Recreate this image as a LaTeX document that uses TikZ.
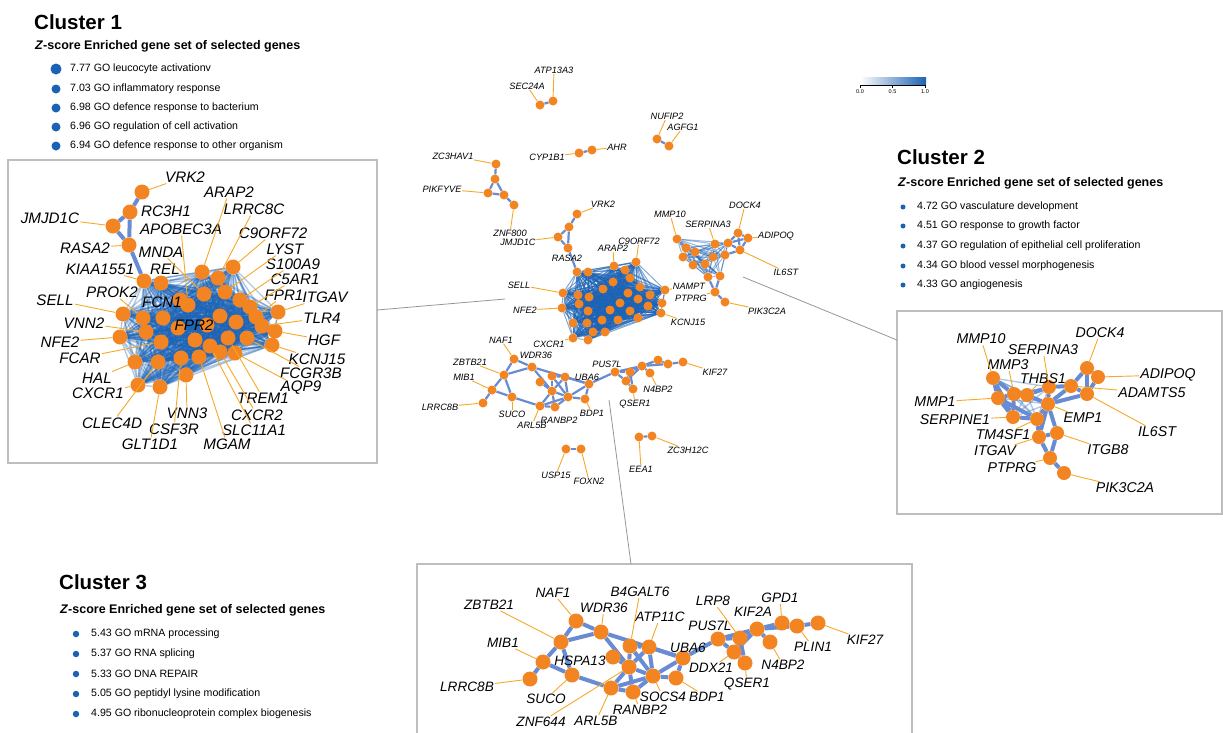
\documentclass[tikz,border=0pt]{standalone}
\usepackage{fontspec}
\setmainfont{Liberation Sans}
\usetikzlibrary{backgrounds}

\definecolor{geneorange}{RGB}{242,133,34}
\definecolor{leadorange}{RGB}{246,168,40}
\definecolor{edgeblue}{RGB}{104,140,212}
\definecolor{coreblue}{RGB}{28,98,180}
\definecolor{panelgray}{RGB}{190,190,190}
\definecolor{calloutgray}{RGB}{150,150,150}

\begin{document}
\begin{tikzpicture}[x=1pt,y=-1pt]
\tikzset{
  gene/.style={circle,fill=geneorange,inner sep=0pt,minimum size=15pt},
  genemid/.style={gene,minimum size=14pt},
  genesmall/.style={gene,minimum size=9pt},
  biglabel/.style={font=\fontsize{15.2}{16}\selectfont\itshape,inner sep=1pt},
  midlabel/.style={font=\fontsize{14.2}{15}\selectfont\itshape,inner sep=1pt},
  boxlabel/.style={font=\fontsize{13.6}{14}\selectfont\itshape,inner sep=1pt},
  tinylabel/.style={font=\fontsize{9.2}{10}\selectfont\itshape,inner sep=0.5pt},
  lead/.style={draw=leadorange,line width=0.9pt},
  thickedge/.style={draw=edgeblue,line width=4pt},
  thinedge/.style={draw=edgeblue,line width=2.2pt},
  coreedge/.style={draw=coreblue,line width=1.4pt,opacity=0.35},
  netcoreedge/.style={draw=coreblue,line width=1pt,opacity=0.55},
  panel/.style={draw=panelgray,line width=1.2pt},
  callout/.style={draw=calloutgray,line width=0.8pt},
  bulletdot/.style={circle,fill=coreblue,inner sep=0pt},
  goitem/.style={anchor=west,inner sep=0pt,font=\fontsize{10.6}{12}\selectfont},
  clustertitle/.style={anchor=west,inner sep=0pt,font=\fontsize{20.5}{22}\selectfont\bfseries},
  enrichhead/.style={anchor=west,inner sep=0pt,font=\fontsize{12.5}{14}\selectfont\bfseries},
  ticklabel/.style={inner sep=0pt,font=\fontsize{5.5}{6}\selectfont}
}
\useasboundingbox (0,0) rectangle (1223,732);

% enrichment lists
\node[clustertitle] (t1) at (34,22) {Cluster 1};
\node[enrichhead] (h1) at (35,46) {\textit{Z}-score Enriched gene set of selected genes};
\node[bulletdot,minimum size=11pt] (d11) at (56,69) {};
\node[goitem] (g11) at (70,69) {7.77 GO leucocyte activationv};
\node[bulletdot,minimum size=9pt] (d12) at (56,89) {};
\node[goitem] (g12) at (70,89) {7.03 GO inflammatory response};
\node[bulletdot,minimum size=9pt] (d13) at (56,108) {};
\node[goitem] (g13) at (70,108) {6.98 GO defence response to bacterium};
\node[bulletdot,minimum size=9pt] (d14) at (56,127) {};
\node[goitem] (g14) at (70,127) {6.96 GO regulation of cell activation};
\node[bulletdot,minimum size=9pt] (d15) at (56,146) {};
\node[goitem] (g15) at (70,146) {6.94 GO defence response to other organism};

\node[clustertitle] (t2) at (897,157) {Cluster 2};
\node[enrichhead] (h2) at (898,183) {\textit{Z}-score Enriched gene set of selected genes};
\node[bulletdot,minimum size=5pt] (d21) at (903,207) {};
\node[goitem] (g21) at (917,207) {4.72 GO vasculature development};
\node[bulletdot,minimum size=5pt] (d22) at (903,226) {};
\node[goitem] (g22) at (917,226) {4.51 GO response to growth factor};
\node[bulletdot,minimum size=5pt] (d23) at (903,246) {};
\node[goitem] (g23) at (917,246) {4.37 GO regulation of epithelial cell proliferation};
\node[bulletdot,minimum size=5pt] (d24) at (903,266) {};
\node[goitem] (g24) at (917,266) {4.34 GO blood vessel morphogenesis};
\node[bulletdot,minimum size=5pt] (d25) at (903,285) {};
\node[goitem] (g25) at (917,285) {4.33 GO angiogenesis};

\node[clustertitle] (t3) at (59,582) {Cluster 3};
\node[enrichhead] (h3) at (60,610) {\textit{Z}-score Enriched gene set of selected genes};
\node[bulletdot,minimum size=6.5pt] (d31) at (76,634) {};
\node[goitem] (g31) at (91,634) {5.43 GO mRNA processing};
\node[bulletdot,minimum size=6.5pt] (d32) at (76,654) {};
\node[goitem] (g32) at (91,654) {5.37 GO RNA splicing};
\node[bulletdot,minimum size=6.5pt] (d33) at (76,674) {};
\node[goitem] (g33) at (91,674) {5.33 GO DNA REPAIR};
\node[bulletdot,minimum size=6.5pt] (d34) at (76,694) {};
\node[goitem] (g34) at (91,694) {5.05 GO peptidyl lysine modification};
\node[bulletdot,minimum size=6.5pt] (d35) at (76,714) {};
\node[goitem] (g35) at (91,714) {4.95 GO ribonucleoprotein complex biogenesis};

% colour scale
\shade[left color=white,right color=coreblue] (860,77) rectangle (926,84);
\draw[line width=0.6pt] (860,85) -- (925,85);
\draw[line width=0.6pt] (860,85) -- (860,88) (892.5,85) -- (892.5,88) (925,85) -- (925,88);
\node[ticklabel] (s0) at (860,92) {0.0};
\node[ticklabel] (s5) at (892.5,92) {0.5};
\node[ticklabel] (s10) at (925,92) {1.0};

% panels and callouts
\draw[panel] (8,160) rectangle (377,463);
\draw[panel] (897,311) rectangle (1222,514);
\draw[panel] (417,740) -- (417,564) -- (912,564) -- (912,740);
\coordinate (box1east) at (377,310);
\coordinate (net1) at (505,299);
\coordinate (box2west) at (897,340);
\coordinate (net2) at (743,277);
\coordinate (box3north) at (631,564);
\coordinate (net3) at (609,400);
\draw[callout] (box1east) -- (net1);
\draw[callout] (net2) -- (box2west);
\draw[callout] (net3) -- (box3north);

% ---------- panel 1 ----------
\node[gene] (b1vrk2) at (142,192) {};
\node[gene] (b1rc3h1) at (130,212) {};
\node[gene] (b1jmjd1c) at (113,226) {};
\node[gene] (b1rasa2) at (129,245) {};
\node[gene] (b1kiaa1551) at (144,281) {};
\node[gene] (b1rel) at (161,283) {};
\node[gene] (b1arap2) at (202,272) {};
\node[gene] (b1lrrc8c) at (218,278) {};
\node[gene] (b1c9orf72) at (233,267) {};
\node[gene] (b1lyst) at (225,292) {};
\node[gene] (b1s100a9) at (240,300) {};
\node[gene] (b1c5ar1) at (250,307) {};
\node[gene] (b1fpr1) at (256,317) {};
\node[gene] (b1itgav) at (278,312) {};
\node[gene] (b1tlr4) at (262,326) {};
\node[gene] (b1hgf) at (275,331) {};
\node[gene] (b1kcnj15) at (272,345) {};
\node[gene] (b1fcgr3b) at (247,338) {};
\node[gene] (b1aqp9) at (235,353) {};
\node[gene] (b1trem1) at (228,338) {};
\node[gene] (b1cxcr2) at (220,352) {};
\node[gene] (b1slc11a1) at (210,346) {};
\node[gene] (b1mgam) at (199,357) {};
\node[gene] (b1vnn3) at (186,375) {};
\node[gene] (b1csf3r) at (181,358) {};
\node[gene] (b1glt1d1) at (160,387) {};
\node[gene] (b1clec4d) at (158,362) {};
\node[gene] (b1cxcr1) at (138,385) {};
\node[gene] (b1hal) at (135,362) {};
\node[gene] (b1fcar) at (161,342) {};
\node[gene] (b1nfe2) at (120,337) {};
\node[gene] (b1vnn2) at (146,332) {};
\node[gene] (b1sell) at (123,314) {};
\node[gene] (b1prok2) at (143,318) {};
\node[gene] (b1fcn1) at (163,318) {};
\node[gene] (b1fpr2) at (195,340) {};
\node[gene] (b1apobec3a) at (188,305) {};
\node[gene] (b1mnda) at (204,294) {};
\node[gene] (b1u1) at (220,316) {};
\node[gene] (b1u2) at (207,325) {};
\node[gene] (b1u3) at (178,328) {};
\node[gene] (b1u4) at (236,322) {};
\node[gene] (b1u5) at (180,300) {};
\def\boxonecore{b1kiaa1551,b1rel,b1arap2,b1lrrc8c,b1c9orf72,b1lyst,b1s100a9,b1c5ar1,b1fpr1,b1itgav,b1tlr4,b1hgf,b1kcnj15,b1fcgr3b,b1aqp9,b1trem1,b1cxcr2,b1slc11a1,b1mgam,b1vnn3,b1csf3r,b1glt1d1,b1clec4d,b1cxcr1,b1hal,b1fcar,b1nfe2,b1vnn2,b1sell,b1prok2,b1fcn1,b1fpr2,b1apobec3a,b1mnda,b1u1,b1u2,b1u3,b1u4,b1u5}

% ---------- panel 2 ----------
\node[genemid] (b2mmp10) at (993,378) {};
\node[genemid] (b2mmp1) at (998,398) {};
\node[genemid] (b2mmp3) at (1014,394) {};
\node[genemid] (b2thbs1) at (1027,395) {};
\node[genemid] (b2serpina3) at (1049,387) {};
\node[genemid] (b2emp1) at (1048,404) {};
\node[genemid] (b2serpine1) at (1013,417) {};
\node[genemid] (b2tm4sf1) at (1037,419) {};
\node[genemid] (b2itgav) at (1039,437) {};
\node[genemid] (b2itgb8) at (1057,433) {};
\node[genemid] (b2ptprg) at (1050,458) {};
\node[genemid] (b2pik3c2a) at (1064,473) {};
\node[genemid] (b2adamts5) at (1071,386) {};
\node[genemid] (b2il6st) at (1087,394) {};
\node[genemid] (b2dock4) at (1087,368) {};
\node[genemid] (b2adipoq) at (1098,377) {};
\def\boxtwocore{b2mmp10,b2mmp1,b2mmp3,b2thbs1,b2serpine1,b2tm4sf1,b2emp1,b2serpina3}

% ---------- panel 3 ----------
\node[gene] (b3naf1) at (576,621) {};
\node[gene] (b3wdr36) at (601,632) {};
\node[gene] (b3zbtb21) at (561,642) {};
\node[gene] (b3mib1) at (543,662) {};
\node[gene] (b3lrrc8b) at (530,679) {};
\node[gene] (b3suco) at (572,675) {};
\node[gene] (b3hspa13) at (613,657) {};
\node[gene] (b3b4galt6) at (630,646) {};
\node[gene] (b3atp11c) at (649,647) {};
\node[gene] (b3znf644) at (629,667) {};
\node[gene] (b3arl5b) at (611,688) {};
\node[gene] (b3ranbp2) at (633,692) {};
\node[gene] (b3socs4) at (653,676) {};
\node[gene] (b3uba6) at (683,658) {};
\node[gene] (b3bdp1) at (676,678) {};
\node[gene] (b3pus7l) at (718,639) {};
\node[gene] (b3lrp8) at (740,638) {};
\node[gene] (b3ddx21) at (734,652) {};
\node[gene] (b3qser1) at (745,663) {};
\node[gene] (b3kif2a) at (757,629) {};
\node[gene] (b3n4bp2) at (770,642) {};
\node[gene] (b3gpd1) at (782,623) {};
\node[gene] (b3plin1) at (797,626) {};
\node[gene] (b3kif27) at (818,623) {};

% ---------- whole network ----------
\node[genesmall] (nsec24a) at (540,105) {};
\node[genesmall] (natp13a3) at (553,101) {};
\node[genesmall] (nnufip2) at (657,139) {};
\node[genesmall] (nagfg1) at (669,146) {};
\node[genesmall] (ncyp1b1) at (579,153) {};
\node[genesmall] (nahr) at (592,150) {};
\node[genesmall] (nzc3hav1) at (496,164) {};
\node[genesmall] (nz1) at (495,179) {};
\node[genesmall] (npikfyve) at (488,193) {};
\node[genesmall] (nz2) at (504,195) {};
\node[genesmall] (nznf800) at (514,205) {};
\node[genesmall] (nusp15) at (566,449) {};
\node[genesmall] (nfoxn2) at (581,449) {};
\node[genesmall] (neea1) at (639,437) {};
\node[genesmall] (nzc3h12c) at (652,436) {};

\node[genesmall] (c1vrk2) at (577,214) {};
\node[genesmall] (c1n1) at (569,227) {};
\node[genesmall] (c1jmjd1c) at (558,237) {};
\node[genesmall] (c1rasa2) at (568,248) {};
\node[genesmall] (c1n2) at (577,272) {};
\node[genesmall] (c1n3) at (588,272) {};
\node[genesmall] (c1arap2) at (614,266) {};
\node[genesmall] (c1n4) at (625,270) {};
\node[genesmall] (c1c9orf72) at (636,262) {};
\node[genesmall] (c1sell) at (563,293) {};
\node[genesmall] (c1n5) at (578,295) {};
\node[genesmall] (c1n6) at (589,297) {};
\node[genesmall] (c1n7) at (603,289) {};
\node[genesmall] (c1n8) at (613,282) {};
\node[genesmall] (c1n9) at (630,278) {};
\node[genesmall] (c1n10) at (640,287) {};
\node[genesmall] (c1n11) at (650,295) {};
\node[genesmall] (c1nampt) at (665,290) {};
\node[genesmall] (c1nfe2) at (562,308) {};
\node[genesmall] (c1n12) at (579,304) {};
\node[genesmall] (c1n13) at (588,311) {};
\node[genesmall] (c1n14) at (610,310) {};
\node[genesmall] (c1n15) at (620,303) {};
\node[genesmall] (c1n16) at (628,293) {};
\node[genesmall] (c1n17) at (638,299) {};
\node[genesmall] (c1n18) at (648,306) {};
\node[genesmall] (c1n19) at (662,303) {};
\node[genesmall] (c1kcnj15) at (661,313) {};
\node[genesmall] (c1n20) at (573,323) {};
\node[genesmall] (c1n21) at (587,323) {};
\node[genesmall] (c1n22) at (602,320) {};
\node[genesmall] (c1n23) at (618,320) {};
\node[genesmall] (c1n24) at (630,311) {};
\node[genesmall] (c1n25) at (638,318) {};
\node[genesmall] (c1n26) at (593,332) {};
\node[genesmall] (c1n27) at (605,332) {};
\node[genesmall] (c1cxcr1) at (573,338) {};
\node[genesmall] (c1n28) at (588,340) {};
\def\netonecore{c1n2,c1n3,c1arap2,c1n4,c1c9orf72,c1sell,c1n5,c1n6,c1n7,c1n8,c1n9,c1n10,c1n11,c1nampt,c1nfe2,c1n12,c1n13,c1n14,c1n15,c1n16,c1n17,c1n18,c1n19,c1kcnj15,c1n20,c1n21,c1n22,c1n23,c1n24,c1n25,c1n26,c1n27,c1cxcr1,c1n28}

\node[genesmall] (c2mmp10) at (677,239) {};
\node[genesmall] (c2n1) at (686,248) {};
\node[genesmall] (c2n2) at (695,252) {};
\node[genesmall] (c2n3) at (683,257) {};
\node[genesmall] (c2n4) at (693,265) {};
\node[genesmall] (c2n5) at (705,264) {};
\node[genesmall] (c2serpina3) at (715,244) {};
\node[genesmall] (c2n6) at (713,257) {};
\node[genesmall] (c2n7) at (725,255) {};
\node[genesmall] (c2n8) at (728,243) {};
\node[genesmall] (c2dock4) at (738,233) {};
\node[genesmall] (c2adipoq) at (748,238) {};
\node[genesmall] (c2il6st) at (740,250) {};
\node[genesmall] (c2n9) at (708,277) {};
\node[genesmall] (c2n10) at (720,276) {};
\node[genesmall] (c2ptprg) at (715,292) {};
\node[genesmall] (c2pik3c2a) at (725,302) {};
\def\nettwocore{c2mmp10,c2n1,c2n2,c2n3,c2n4,c2n5,c2serpina3,c2n6,c2n7,c2n8,c2n9,c2n10}

\node[genesmall] (c3naf1) at (514,359) {};
\node[genesmall] (c3wdr36) at (532,367) {};
\node[genesmall] (c3zbtb21) at (504,375) {};
\node[genesmall] (c3mib1) at (492,390) {};
\node[genesmall] (c3lrrc8b) at (483,403) {};
\node[genesmall] (c3suco) at (512,397) {};
\node[genesmall] (c3b4galt6) at (552,376) {};
\node[genesmall] (c3atp11c) at (565,377) {};
\node[genesmall] (c3hspa13) at (540,382) {};
\node[genesmall] (c3znf644) at (552,391) {};
\node[genesmall] (c3socs4) at (568,397) {};
\node[genesmall] (c3arl5b) at (540,406) {};
\node[genesmall] (c3ranbp2) at (555,407) {};
\node[genesmall] (c3bdp1) at (585,399) {};
\node[genesmall] (c3uba6) at (589,384) {};
\node[genesmall] (c3pus7l) at (615,372) {};
\node[genesmall] (c3lrp8) at (630,372) {};
\node[genesmall] (c3ddx21) at (626,381) {};
\node[genesmall] (c3qser1) at (633,389) {};
\node[genesmall] (c3kif2a) at (642,366) {};
\node[genesmall] (c3n4bp2) at (650,373) {};
\node[genesmall] (c3gpd1) at (658,360) {};
\node[genesmall] (c3plin1) at (668,364) {};
\node[genesmall] (c3kif27) at (683,362) {};

% edges, under the genes
\begin{scope}[on background layer]
\foreach \a [count=\i] in \boxonecore {
  \foreach \b [count=\j] in \boxonecore {
    \ifnum\j>\i \draw[coreedge] (\a) -- (\b); \fi
  }
}
\foreach \a [count=\i] in \netonecore {
  \foreach \b [count=\j] in \netonecore {
    \ifnum\j>\i \draw[netcoreedge] (\a) -- (\b); \fi
  }
}
\foreach \a [count=\i] in \boxtwocore {
  \foreach \b [count=\j] in \boxtwocore {
    \ifnum\j>\i \draw[coreedge] (\a) -- (\b); \fi
  }
}
\foreach \a [count=\i] in \nettwocore {
  \foreach \b [count=\j] in \nettwocore {
    \ifnum\j>\i \draw[netcoreedge,opacity=0.45] (\a) -- (\b); \fi
  }
}
\draw[thickedge] (b1vrk2) -- (b1rc3h1);
\draw[thickedge] (b1rc3h1) -- (b1jmjd1c);
\draw[thickedge] (b1rc3h1) -- (b1rasa2);
\draw[thickedge] (b1jmjd1c) -- (b1rasa2);
\draw[thickedge] (b1rasa2) -- (b1kiaa1551);
\draw[thinedge] (c1vrk2) -- (c1n1);
\draw[thinedge] (c1n1) -- (c1jmjd1c);
\draw[thinedge] (c1n1) -- (c1rasa2);
\draw[thinedge] (c1jmjd1c) -- (c1rasa2);
\draw[thinedge] (c1rasa2) -- (c1n2);
\foreach \a/\b in {mmp10/mmp1,mmp10/mmp3,mmp1/mmp3,mmp1/serpine1,mmp3/thbs1,mmp3/serpine1,thbs1/emp1,thbs1/serpina3,serpina3/emp1,serpine1/tm4sf1,tm4sf1/emp1,emp1/adamts5,serpina3/adamts5,adamts5/dock4,adamts5/il6st,dock4/adipoq,dock4/il6st,adipoq/il6st,emp1/il6st,tm4sf1/itgav,emp1/itgav,emp1/itgb8,itgav/ptprg,itgb8/ptprg,itgav/itgb8,ptprg/pik3c2a,mmp1/tm4sf1,mmp10/serpine1}
  \draw[thickedge] (b2\a) -- (b2\b);
\foreach \a/\b in {n8/dock4,n8/adipoq,n8/il6st,dock4/adipoq,dock4/il6st,adipoq/il6st,n7/il6st,n9/ptprg,n10/ptprg,ptprg/pik3c2a,n5/n9,mmp10/n1}
  \draw[thinedge] (c2\a) -- (c2\b);
\foreach \p/\w in {b3/4pt,c3/2.2pt}
  \foreach \a/\b in {naf1/wdr36,naf1/zbtb21,zbtb21/wdr36,zbtb21/mib1,zbtb21/suco,mib1/lrrc8b,mib1/suco,wdr36/uba6,wdr36/znf644,suco/arl5b,hspa13/znf644,b4galt6/znf644,b4galt6/atp11c,b4galt6/socs4,atp11c/znf644,atp11c/socs4,atp11c/uba6,znf644/arl5b,znf644/ranbp2,znf644/socs4,arl5b/ranbp2,arl5b/socs4,ranbp2/socs4,socs4/uba6,socs4/bdp1,uba6/bdp1,uba6/pus7l,pus7l/lrp8,pus7l/ddx21,pus7l/kif2a,lrp8/ddx21,lrp8/kif2a,lrp8/qser1,ddx21/qser1,ddx21/kif2a,kif2a/n4bp2,kif2a/gpd1,kif2a/plin1,gpd1/plin1,plin1/kif27}
    \draw[draw=edgeblue,line width=\w] (\p\a) -- (\p\b);
\draw[thinedge] (nsec24a) -- (natp13a3);
\draw[thinedge] (nnufip2) -- (nagfg1);
\draw[thinedge] (ncyp1b1) -- (nahr);
\draw[thinedge] (nzc3hav1) -- (nz1);
\draw[thinedge] (nz1) -- (npikfyve);
\draw[thinedge] (nz1) -- (nz2);
\draw[thinedge] (npikfyve) -- (nz2);
\draw[thinedge] (nz2) -- (nznf800);
\draw[thinedge] (nusp15) -- (nfoxn2);
\draw[thinedge] (neea1) -- (nzc3h12c);
\end{scope}

% ---------- labels, panel 1 ----------
\node[biglabel] (l1vrk2) at (185,177) {VRK2};
\node[biglabel] (l1rc3h1) at (166,211) {RC3H1};
\node[biglabel] (l1jmjd1c) at (50,218) {JMJD1C};
\node[biglabel] (l1rasa2) at (85,248) {RASA2};
\node[biglabel] (l1kiaa1551) at (100,269) {KIAA1551};
\node[biglabel] (l1rel) at (165,269) {REL};
\node[biglabel] (l1apobec3a) at (181,229) {APOBEC3A};
\node[biglabel] (l1mnda) at (161,252) {MNDA};
\node[biglabel] (l1prok2) at (112,292) {PROK2};
\node[biglabel] (l1sell) at (55,300) {SELL};
\node[biglabel] (l1fcn1) at (162,302) {FCN1};
\node[biglabel] (l1fpr2) at (194,325) {FPR2};
\node[biglabel] (l1arap2) at (229,192) {ARAP2};
\node[biglabel] (l1lrrc8c) at (254,209) {LRRC8C};
\node[biglabel] (l1c9orf72) at (273,233) {C9ORF72};
\node[biglabel] (l1lyst) at (285,249) {LYST};
\node[biglabel] (l1s100a9) at (293,264) {S100A9};
\node[biglabel] (l1c5ar1) at (295,279) {C5AR1};
\node[biglabel] (l1fpr1) at (284,295) {FPR1};
\node[biglabel] (l1itgav) at (325,297) {ITGAV};
\node[biglabel] (l1tlr4) at (322,318) {TLR4};
\node[biglabel] (l1hgf) at (324,340) {HGF};
\node[biglabel] (l1kcnj15) at (317,359) {KCNJ15};
\node[biglabel] (l1fcgr3b) at (311,373) {FCGR3B};
\node[biglabel] (l1aqp9) at (301,388) {AQP9};
\node[biglabel] (l1trem1) at (263,398) {TREM1};
\node[biglabel] (l1cxcr2) at (257,415) {CXCR2};
\node[biglabel] (l1slc11a1) at (254,430) {SLC11A1};
\node[biglabel] (l1mgam) at (227,444) {MGAM};
\node[biglabel] (l1vnn3) at (187,413) {VNN3};
\node[biglabel] (l1csf3r) at (174,429) {CSF3R};
\node[biglabel] (l1glt1d1) at (150,444) {GLT1D1};
\node[biglabel] (l1clec4d) at (112,423) {CLEC4D};
\node[biglabel] (l1cxcr1) at (98,393) {CXCR1};
\node[biglabel] (l1hal) at (97,378) {HAL};
\node[biglabel] (l1fcar) at (80,358) {FCAR};
\node[biglabel] (l1nfe2) at (60,342) {NFE2};
\node[biglabel] (l1vnn2) at (84,323) {VNN2};
\foreach \g in {vrk2,jmjd1c,rasa2,kiaa1551,apobec3a,mnda,prok2,sell,arap2,lrrc8c,c9orf72,lyst,s100a9,c5ar1,fpr1,itgav,tlr4,hgf,kcnj15,fcgr3b,aqp9,trem1,cxcr2,slc11a1,mgam,vnn3,csf3r,glt1d1,clec4d,cxcr1,hal,fcar,nfe2,vnn2}
  \draw[lead] (l1\g) -- (b1\g);

% ---------- labels, panel 2 ----------
\node[midlabel] (l2mmp10) at (981,339) {MMP10};
\node[midlabel] (l2mmp3) at (1008,365) {MMP3};
\node[midlabel] (l2serpina3) at (1043,350) {SERPINA3};
\node[midlabel] (l2thbs1) at (1043,379) {THBS1};
\node[midlabel] (l2dock4) at (1100,333) {DOCK4};
\node[midlabel] (l2adipoq) at (1168,375) {ADIPOQ};
\node[midlabel] (l2adamts5) at (1152,393) {ADAMTS5};
\node[midlabel] (l2il6st) at (1157,432) {IL6ST};
\node[midlabel] (l2mmp1) at (935,402) {MMP1};
\node[midlabel] (l2emp1) at (1083,418) {EMP1};
\node[midlabel] (l2serpine1) at (955,420) {SERPINE1};
\node[midlabel] (l2tm4sf1) at (1003,435) {TM4SF1};
\node[midlabel] (l2itgav) at (995,451) {ITGAV};
\node[midlabel] (l2itgb8) at (1108,450) {ITGB8};
\node[midlabel] (l2ptprg) at (1012,468) {PTPRG};
\node[midlabel] (l2pik3c2a) at (1125,488) {PIK3C2A};
\foreach \g in {mmp10,mmp3,serpina3,thbs1,dock4,adipoq,adamts5,il6st,mmp1,emp1,serpine1,tm4sf1,itgav,itgb8,ptprg,pik3c2a}
  \draw[lead] (l2\g) -- (b2\g);

% ---------- labels, panel 3 ----------
\node[boxlabel] (l3naf1) at (553,593) {NAF1};
\node[boxlabel] (l3wdr36) at (604,608) {WDR36};
\node[boxlabel] (l3zbtb21) at (489,605) {ZBTB21};
\node[boxlabel] (l3mib1) at (503,643) {MIB1};
\node[boxlabel] (l3lrrc8b) at (467,687) {LRRC8B};
\node[boxlabel] (l3suco) at (546,699) {SUCO};
\node[boxlabel] (l3hspa13) at (580,661) {HSPA13};
\node[boxlabel] (l3b4galt6) at (640,592) {B4GALT6};
\node[boxlabel] (l3atp11c) at (660,617) {ATP11C};
\node[boxlabel] (l3znf644) at (541,722) {ZNF644};
\node[boxlabel] (l3arl5b) at (596,721) {ARL5B};
\node[boxlabel] (l3ranbp2) at (640,710) {RANBP2};
\node[boxlabel] (l3socs4) at (663,697) {SOCS4};
\node[boxlabel] (l3uba6) at (688,648) {UBA6};
\node[boxlabel] (l3bdp1) at (707,697) {BDP1};
\node[boxlabel] (l3pus7l) at (710,626) {PUS7L};
\node[boxlabel] (l3lrp8) at (713,601) {LRP8};
\node[boxlabel] (l3kif2a) at (753,612) {KIF2A};
\node[boxlabel] (l3gpd1) at (780,598) {GPD1};
\node[boxlabel] (l3plin1) at (813,647) {PLIN1};
\node[boxlabel] (l3kif27) at (865,640) {KIF27};
\node[boxlabel] (l3n4bp2) at (783,665) {N4BP2};
\node[boxlabel] (l3ddx21) at (711,668) {DDX21};
\node[boxlabel] (l3qser1) at (747,684) {QSER1};
\foreach \g in {naf1,wdr36,zbtb21,mib1,lrrc8b,suco,b4galt6,atp11c,znf644,arl5b,ranbp2,socs4,bdp1,lrp8,gpd1,plin1,kif27,n4bp2,ddx21,qser1}
  \draw[lead] (l3\g) -- (b3\g);

% ---------- labels, whole network ----------
\node[tinylabel] (lnatp13a3) at (554,70) {ATP13A3};
\node[tinylabel] (lnsec24a) at (527,86) {SEC24A};
\node[tinylabel] (lnnufip2) at (667,116) {NUFIP2};
\node[tinylabel] (lnagfg1) at (683,127) {AGFG1};
\node[tinylabel] (lncyp1b1) at (547,157) {CYP1B1};
\node[tinylabel] (lnahr) at (617,147) {AHR};
\node[tinylabel] (lnzc3hav1) at (453,156) {ZC3HAV1};
\node[tinylabel] (lnpikfyve) at (442,189) {PIKFYVE};
\node[tinylabel] (lnznf800) at (510,233) {ZNF800};
\node[tinylabel] (lnusp15) at (556,475) {USP15};
\node[tinylabel] (lnfoxn2) at (589,481) {FOXN2};
\node[tinylabel] (lneea1) at (641,469) {EEA1};
\node[tinylabel] (lnzc3h12c) at (688,450) {ZC3H12C};
\foreach \g in {atp13a3,sec24a,nufip2,agfg1,cyp1b1,ahr,zc3hav1,pikfyve,znf800,usp15,foxn2,eea1,zc3h12c}
  \draw[lead] (ln\g) -- (n\g);

\node[tinylabel] (lc1vrk2) at (603,204) {VRK2};
\node[tinylabel] (lc1jmjd1c) at (518,242) {JMJD1C};
\node[tinylabel] (lc1rasa2) at (567,258) {RASA2};
\node[tinylabel] (lc1arap2) at (613,248) {ARAP2};
\node[tinylabel] (lc1c9orf72) at (639,241) {C9ORF72};
\node[tinylabel] (lc1sell) at (519,285) {SELL};
\node[tinylabel] (lc1nfe2) at (525,310) {NFE2};
\node[tinylabel] (lc1nampt) at (689,286) {NAMPT};
\node[tinylabel] (lc1kcnj15) at (688,322) {KCNJ15};
\node[tinylabel] (lc1cxcr1) at (549,344) {CXCR1};
\foreach \g in {vrk2,jmjd1c,arap2,c9orf72,sell,nfe2,nampt,kcnj15,cxcr1}
  \draw[lead] (lc1\g) -- (c1\g);

\node[tinylabel] (lc2mmp10) at (670,214) {MMP10};
\node[tinylabel] (lc2serpina3) at (708,224) {SERPINA3};
\node[tinylabel] (lc2dock4) at (745,205) {DOCK4};
\node[tinylabel] (lc2adipoq) at (776,236) {ADIPOQ};
\node[tinylabel] (lc2il6st) at (786,272) {IL6ST};
\node[tinylabel] (lc2ptprg) at (691,298) {PTPRG};
\node[tinylabel] (lc2pik3c2a) at (767,311) {PIK3C2A};
\foreach \g in {mmp10,serpina3,dock4,adipoq,il6st,ptprg,pik3c2a}
  \draw[lead] (lc2\g) -- (c2\g);

\node[tinylabel] (lc3naf1) at (501,340) {NAF1};
\node[tinylabel] (lc3wdr36) at (536,355) {WDR36};
\node[tinylabel] (lc3zbtb21) at (470,362) {ZBTB21};
\node[tinylabel] (lc3mib1) at (464,377) {MIB1};
\node[tinylabel] (lc3lrrc8b) at (440,407) {LRRC8B};
\node[tinylabel] (lc3suco) at (512,414) {SUCO};
\node[tinylabel] (lc3arl5b) at (532,425) {ARL5B};
\node[tinylabel] (lc3ranbp2) at (559,420) {RANBP2};
\node[tinylabel] (lc3bdp1) at (592,413) {BDP1};
\node[tinylabel] (lc3uba6) at (587,377) {UBA6};
\node[tinylabel] (lc3pus7l) at (607,364) {PUS7L};
\node[tinylabel] (lc3qser1) at (635,404) {QSER1};
\node[tinylabel] (lc3n4bp2) at (658,389) {N4BP2};
\node[tinylabel] (lc3kif27) at (715,372) {KIF27};
\foreach \g in {naf1,zbtb21,mib1,lrrc8b,suco,arl5b,bdp1,qser1,n4bp2,kif27}
  \draw[lead] (lc3\g) -- (c3\g);
\end{tikzpicture}
\end{document}
